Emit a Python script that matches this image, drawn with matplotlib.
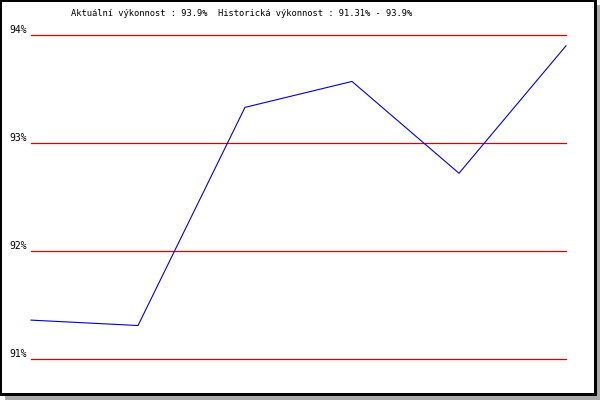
import matplotlib
matplotlib.use("Agg")
import matplotlib.pyplot as plt
from matplotlib.patches import Rectangle
from matplotlib.transforms import blended_transform_factory

values = [91.36, 91.31, 93.33, 93.57, 92.72, 93.90]
positions = [0, 1, 2, 3, 4, 5]
yticks = [91, 92, 93, 94]
ytick_labels = ["91%", "92%", "93%", "94%"]
title = "Aktuální výkonnost : 93.9%  Historická výkonnost : 91.31% - 93.9%"

W, H = 600, 400
fig = plt.figure(figsize=(W / 100, H / 100), dpi=100)
fig.patch.set_facecolor("white")

def px_rect(x0, y0, x1, y1, **kw):
    # pixel coords with origin at top-left
    return Rectangle((x0 / W, 1 - y1 / H), (x1 - x0) / W, (y1 - y0) / H,
                     transform=fig.transFigure, **kw)

# frame with shadow
fig.add_artist(px_rect(0, 0, 600, 400, facecolor="white", edgecolor="none", zorder=0))
fig.add_artist(px_rect(5, 5, 600, 400, facecolor="#aaaaaa", edgecolor="none", zorder=0))
fig.add_artist(px_rect(0, 0, 597, 396, facecolor="black", edgecolor="none", zorder=0))
fig.add_artist(px_rect(2, 2, 594, 393, facecolor="white", edgecolor="none", zorder=0))

ax_l, ax_r, ax_t, ax_b = 31, 566, 35, 359
ax = fig.add_axes([ax_l / W, 1 - ax_b / H, (ax_r - ax_l) / W, (ax_b - ax_t) / H])
ax.set_facecolor("none")
ax.set_xlim(positions[0], positions[-1])
ax.set_ylim(91, 94)
for s in ax.spines.values():
    s.set_visible(False)
ax.set_xticks([])
ax.set_yticks([])

tr = blended_transform_factory(fig.transFigure, ax.transData)
for t, lab in zip(yticks, ytick_labels):
    ax.axhline(t, color="#e00000", linewidth=0.9, zorder=1, clip_on=False)
    ax.text(26.5 / W, t, lab, transform=tr, ha="right", va="bottom",
            family="DejaVu Sans Mono", fontsize=7.0)

ax.plot(positions, values, color="#0000dd", linewidth=0.8, zorder=2, clip_on=False)

fig.text(242 / W, 1 - 13 / H, title, ha="center", va="center",
         family="DejaVu Sans Mono", fontsize=6.3)

fig.savefig("out.png", dpi=100)
